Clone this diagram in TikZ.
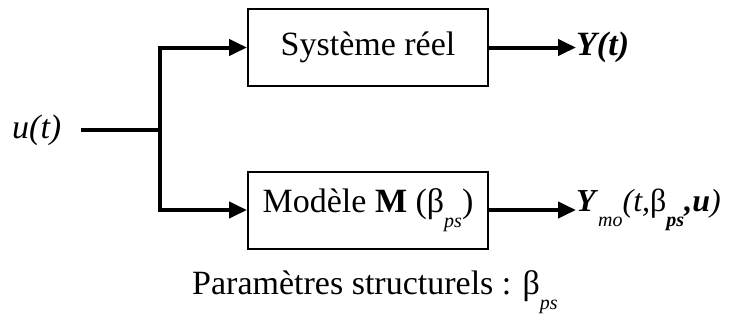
\documentclass[tikz,border=0pt]{standalone}
\usepackage{fontspec}
\setmainfont{Liberation Serif}
\usetikzlibrary{arrows.meta}
\newcommand{\mysub}[1]{\raisebox{-0.45em}{\fontsize{20}{20}\selectfont #1}}
\begin{document}
\begin{tikzpicture}[x=1pt,y=-1pt,
  font=\fontsize{34}{36}\selectfont,
  box/.style={draw, line width=2pt, minimum width=240pt, minimum height=77pt, inner sep=0pt},
  wire/.style={line width=4pt},
  arr/.style={wire,-{Triangle[length=18pt,width=16pt]}},
  lbl/.style={inner sep=0pt}]
\useasboundingbox (0,0) rectangle (733,325);
\node[box] (sys) at (368,47.5) {Système réel};
\node[box] (mod) at (368,210) {Modèle \textbf{M} (β\mysub{\textit{ps}})};
\node[lbl, anchor=west] (u) at (12,130) {\textit{u(t)}};
\coordinate (in) at (81,130);
\coordinate (j) at (160,130);
\draw[wire] (in) -- (j);
\draw[arr] (j) |- (sys.west);
\draw[arr] (j) |- (mod.west);
\node[lbl, anchor=west] (y) at (576,47.5) {\textbf{\textit{Y(t)}}};
\node[lbl, anchor=west, font=\fontsize{32}{36}\selectfont] (ym) at (576,210) {\textbf{\textit{Y}}\mysub{\textit{mo}}\textit{(t,}β\mysub{\textbf{\textit{ps}}}\textbf{\textit{,u}}\textit{)}};
\draw[arr] (sys.east) -- (y.west);
\draw[arr] (mod.east) -- (ym.west);
\node[lbl] (par) at (375,292) {Paramètres structurels : β\mysub{\textit{ps}}};
\end{tikzpicture}
\end{document}
